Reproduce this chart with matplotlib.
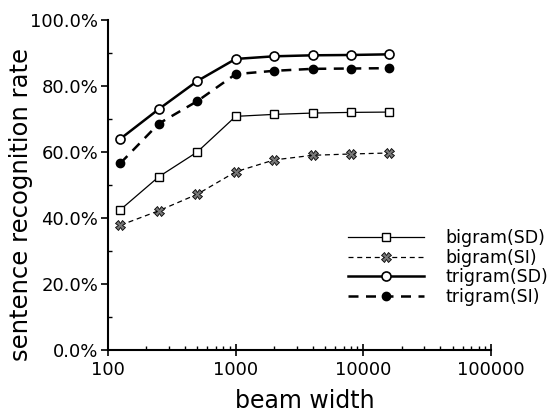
import matplotlib
matplotlib.use("Agg")
import matplotlib.pyplot as plt
from matplotlib.ticker import NullFormatter, LogLocator

beam = [125, 250, 500, 1000, 2000, 4000, 8000, 16000]
bigram_sd = [42.5, 52.5, 60.0, 70.8, 71.4, 71.8, 72.0, 72.1]
bigram_si = [37.8, 42.2, 47.2, 54.0, 57.6, 59.0, 59.4, 59.7]
trigram_sd = [64.0, 73.0, 81.5, 88.2, 89.0, 89.3, 89.4, 89.6]
trigram_si = [56.6, 68.6, 75.4, 83.6, 84.6, 85.2, 85.3, 85.4]
yticks = [0, 20, 40, 60, 80, 100]
ytick_labels = ["0.0%", "20.0%", "40.0%", "60.0%", "80.0%", "100.0%"]
xticks = [100, 1000, 10000, 100000]
xtick_labels = ["100", "1000", "10000", "100000"]

plt.rcParams['font.family'] = ['DejaVu Sans']
fig = plt.figure(figsize=(5.52, 4.12), dpi=100)
ax = fig.add_axes([108/552, 1-350/412, (491-108)/552, (350-20)/412])

ax.plot(beam, bigram_sd, '-', color='black', lw=0.9, marker='s', ms=6,
        mfc='white', mec='black', mew=1.0, label='bigram(SD)')
ax.plot(beam, bigram_si, '--', color='black', lw=0.9, dashes=(4, 3), marker='X', ms=6.5,
        mfc='#777777', mec='black', mew=0.6, label='bigram(SI)')
ax.plot(beam, trigram_sd, '-', color='black', lw=1.8, marker='o', ms=6.5,
        mfc='white', mec='black', mew=1.2, label='trigram(SD)')
ax.plot(beam, trigram_si, '--', color='black', lw=1.8, dashes=(4, 3), marker='o', ms=6,
        mfc='black', mec='black', label='trigram(SI)')

ax.set_xscale('log')
ax.set_xlim(100, 100000)
ax.set_ylim(0, 100)
ax.set_yticks(yticks)
ax.set_yticklabels(ytick_labels)
ax.set_yticks([10, 30, 50, 70, 90], minor=True)
ax.set_xticks(xticks)
ax.set_xticklabels(xtick_labels)
ax.xaxis.set_minor_locator(LogLocator(base=10, subs=range(2, 10)))
ax.xaxis.set_minor_formatter(NullFormatter())

for s in ['top', 'right']:
    ax.spines[s].set_visible(False)
for s in ['left', 'bottom']:
    ax.spines[s].set_linewidth(1.5)

ax.tick_params(axis='both', which='major', direction='out', length=5, width=1.2,
               labelsize=13, colors='black', pad=2)
ax.tick_params(axis='both', which='minor', direction='in', length=3, width=1.0)
ax.tick_params(axis='x', which='major', direction='inout', length=8, pad=4)

ax.set_xlabel('beam width', fontsize=17)
ax.xaxis.set_label_coords((305 - 108) / 383, (350 - 389) / 330)
ax.set_ylabel('sentence recognition rate', fontsize=17.5)
ax.yaxis.set_label_coords((33 - 108) / 383, 0.44)

leg = ax.legend(loc='upper left', bbox_to_anchor=((348-108)/383, (350-229)/330),
                frameon=False, fontsize=12.5, handlelength=4.4, handletextpad=1.2,
                labelspacing=0.1, borderaxespad=0, borderpad=0)

fig.savefig('out.png', dpi=100)
